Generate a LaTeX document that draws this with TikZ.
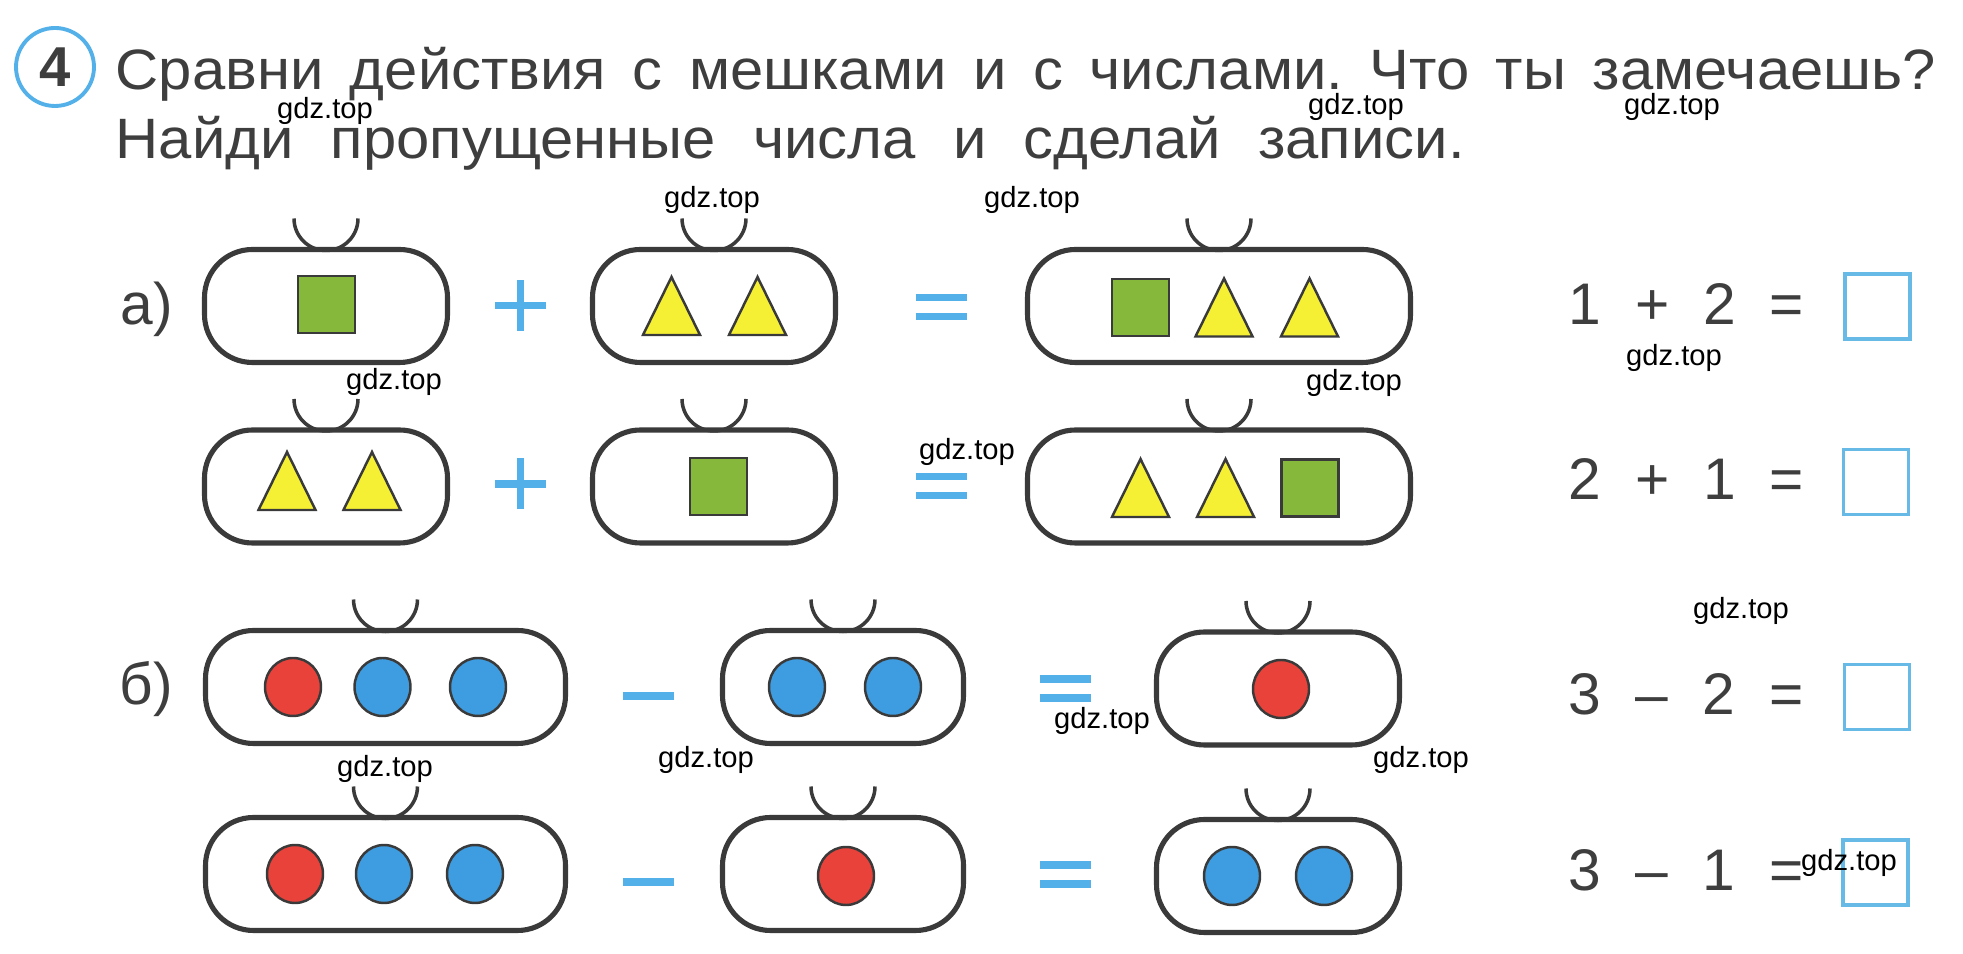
\documentclass[tikz,border=0pt]{standalone}
\usepackage{fontspec}
\setmainfont{Liberation Sans}
\newfontfamily\taskfont[FakeStretch=1.05]{Liberation Sans}
\usetikzlibrary{shapes.geometric}
\definecolor{ink}{RGB}{62, 62, 62}
\definecolor{bagline}{RGB}{58, 58, 58}
\definecolor{signblue}{RGB}{84, 176, 232}
\definecolor{boxblue}{RGB}{104, 186, 230}
\definecolor{leaf}{RGB}{134, 184, 60}
\definecolor{lemon}{RGB}{246, 240, 52}
\definecolor{cherry}{RGB}{233, 66, 58}
\definecolor{sky}{RGB}{62, 156, 224}
\def\handler{0.32}
\def\baghandle#1{\draw[handle] ([shift={(-\handler,0.31)}]#1.north)
  arc[start angle=180, end angle=360, radius=\handler];}
\tikzset{
  bag/.style={draw=bagline, line width=1.45pt, rounded corners=0.48cm,
    minimum height=1.13cm, inner sep=0pt, outer sep=0pt},
  handle/.style={draw=bagline, line width=1pt},
  cube/.style={draw=bagline, line width=0.7pt, fill=leaf, minimum size=0.57cm, inner sep=0pt},
  ball/.style={ellipse, draw=bagline, line width=0.7pt, minimum width=0.56cm,
    minimum height=0.58cm, inner sep=0pt},
  sign/.style={signblue, line width=2pt},
  answer/.style={draw=boxblue, line width=1.1pt, minimum size=0.65cm, inner sep=0pt},
  sum/.style={font=\fontsize{16.7}{20}\selectfont, text=ink, inner sep=0pt, anchor=base west},
  task/.style={font=\taskfont\fontsize{16.2}{19}\selectfont\frenchspacing, text=ink,
    inner sep=0pt, anchor=base west},
  wmark/.style={font=\fontsize{8.3}{10}\selectfont, text=black, inner sep=0pt},
  tri/.pic={\draw[bagline, line width=0.7pt, fill=lemon]
    (-0.285,-0.29) -- (0.285,-0.29) -- (0,0.29) -- cycle;},
  plussign/.pic={\draw[sign] (-0.255,0) -- (0.255,0) (0,-0.255) -- (0,0.255);},
  minussign/.pic={\draw[sign, line width=2.2pt] (-0.255,0) -- (0.255,0);},
  eqsign/.pic={\draw[sign] (-0.255,0.095) -- (0.255,0.095) (-0.255,-0.095) -- (0.255,-0.095);}
}
\begin{document}
\begin{tikzpicture}
\fill[white] (0,0) rectangle (19.63,-9.54);
\useasboundingbox (0,0) rectangle (19.63,-9.54);

% heading
\node[circle, draw=signblue, line width=1.1pt, minimum size=0.78cm, inner sep=0pt,
  font=\fontsize{16}{18}\selectfont\bfseries, text=ink] (num) at (0.55,-0.67) {4};
\node[task] (task1) at (1.15,-0.895)
  {\makebox[18.2cm][s]{Сравни действия с мешками и с числами. Что ты замечаешь?}};
\node[task] (task2) at (1.15,-1.585)
  {\makebox[13.49cm][s]{Найди пропущенные числа и сделай записи.}};

% a)
\node[sum] (partA) at (1.20,-3.25) {а)};

\node[bag, minimum width=2.43cm] (bagA1) at (3.26,-3.06) {};
\baghandle{bagA1}
\node[cube] (sqA1) at (3.265,-3.045) {};
\pic at (5.205,-3.055) {plussign};
\node[bag, minimum width=2.43cm] (bagA2) at (7.14,-3.06) {};
\baghandle{bagA2}
\pic at (6.715,-3.06) {tri};
\pic at (7.575,-3.06) {tri};
\pic at (9.41,-3.07) {eqsign};
\node[bag, minimum width=3.83cm] (bagA3) at (12.19,-3.06) {};
\baghandle{bagA3}
\node[cube] (sqA3) at (11.405,-3.075) {};
\pic at (12.24,-3.075) {tri};
\pic at (13.095,-3.075) {tri};
\node[sum] (sumA) at (15.68,-3.25) {\makebox[2.35cm][s]{1 + 2 =}};
\node[answer] (boxA) at (18.775,-3.065) {};

\node[bag, minimum width=2.43cm] (bagB1) at (3.26,-4.865) {};
\baghandle{bagB1}
\pic at (2.87,-4.81) {tri};
\pic at (3.72,-4.81) {tri};
\pic at (5.205,-4.84) {plussign};
\node[bag, minimum width=2.43cm] (bagB2) at (7.14,-4.865) {};
\baghandle{bagB2}
\node[cube] (sqB2) at (7.185,-4.865) {};
\pic at (9.41,-4.86) {eqsign};
\node[bag, minimum width=3.83cm] (bagB3) at (12.19,-4.865) {};
\baghandle{bagB3}
\pic at (11.405,-4.88) {tri};
\pic at (12.255,-4.88) {tri};
\node[cube] (sqB3) at (13.10,-4.88) {};
\node[sum] (sumB) at (15.68,-5.00) {\makebox[2.35cm][s]{2 + 1 =}};
\node[answer] (boxB) at (18.76,-4.82) {};

% б)
\node[sum] (partB) at (1.19,-7.05) {б)};

\node[bag, minimum width=3.60cm] (bagC1) at (3.855,-6.87) {};
\baghandle{bagC1}
\node[ball, fill=cherry] (c1a) at (2.93,-6.87) {};
\node[ball, fill=sky] (c1b) at (3.825,-6.87) {};
\node[ball, fill=sky] (c1c) at (4.78,-6.87) {};
\pic at (6.485,-6.96) {minussign};
\node[bag, minimum width=2.41cm] (bagC2) at (8.43,-6.87) {};
\baghandle{bagC2}
\node[ball, fill=sky] (c2a) at (7.97,-6.87) {};
\node[ball, fill=sky] (c2b) at (8.93,-6.87) {};
\pic at (10.655,-6.885) {eqsign};
\node[bag, minimum width=2.43cm] (bagC3) at (12.78,-6.885) {};
\baghandle{bagC3}
\node[ball, fill=cherry] (c3a) at (12.81,-6.89) {};
\node[sum] (sumC) at (15.68,-7.15) {\makebox[2.35cm][s]{3 – 2 =}};
\node[answer] (boxC) at (18.77,-6.97) {};

\node[bag, minimum width=3.60cm] (bagD1) at (3.855,-8.74) {};
\baghandle{bagD1}
\node[ball, fill=cherry] (d1a) at (2.95,-8.74) {};
\node[ball, fill=sky] (d1b) at (3.84,-8.74) {};
\node[ball, fill=sky] (d1c) at (4.75,-8.74) {};
\pic at (6.485,-8.82) {minussign};
\node[bag, minimum width=2.41cm] (bagD2) at (8.43,-8.74) {};
\baghandle{bagD2}
\node[ball, fill=cherry] (d2a) at (8.46,-8.76) {};
\pic at (10.655,-8.745) {eqsign};
\node[bag, minimum width=2.43cm] (bagD3) at (12.78,-8.76) {};
\baghandle{bagD3}
\node[ball, fill=sky] (d3a) at (12.32,-8.76) {};
\node[ball, fill=sky] (d3b) at (13.24,-8.76) {};
\node[sum] (sumD) at (15.68,-8.91) {\makebox[2.35cm][s]{3 – 1 =}};
\node[answer] (boxD) at (18.755,-8.725) {};

% watermarks
\node[wmark] (wm1) at (3.25,-1.11) {gdz.top};
\node[wmark] (wm2) at (13.56,-1.07) {gdz.top};
\node[wmark] (wm3) at (16.72,-1.07) {gdz.top};
\node[wmark] (wm4) at (7.12,-2.00) {gdz.top};
\node[wmark] (wm5) at (10.32,-2.00) {gdz.top};
\node[wmark] (wm6) at (3.94,-3.82) {gdz.top};
\node[wmark] (wm7) at (13.54,-3.83) {gdz.top};
\node[wmark] (wm8) at (16.74,-3.58) {gdz.top};
\node[wmark] (wm9) at (9.67,-4.52) {gdz.top};
\node[wmark] (wm10) at (17.41,-6.11) {gdz.top};
\node[wmark] (wm11) at (11.02,-7.21) {gdz.top};
\node[wmark] (wm12) at (7.06,-7.60) {gdz.top};
\node[wmark] (wm13) at (14.21,-7.60) {gdz.top};
\node[wmark] (wm14) at (3.85,-7.69) {gdz.top};
\node[wmark] (wm15) at (18.49,-8.63) {gdz.top};
\end{tikzpicture}
\end{document}
